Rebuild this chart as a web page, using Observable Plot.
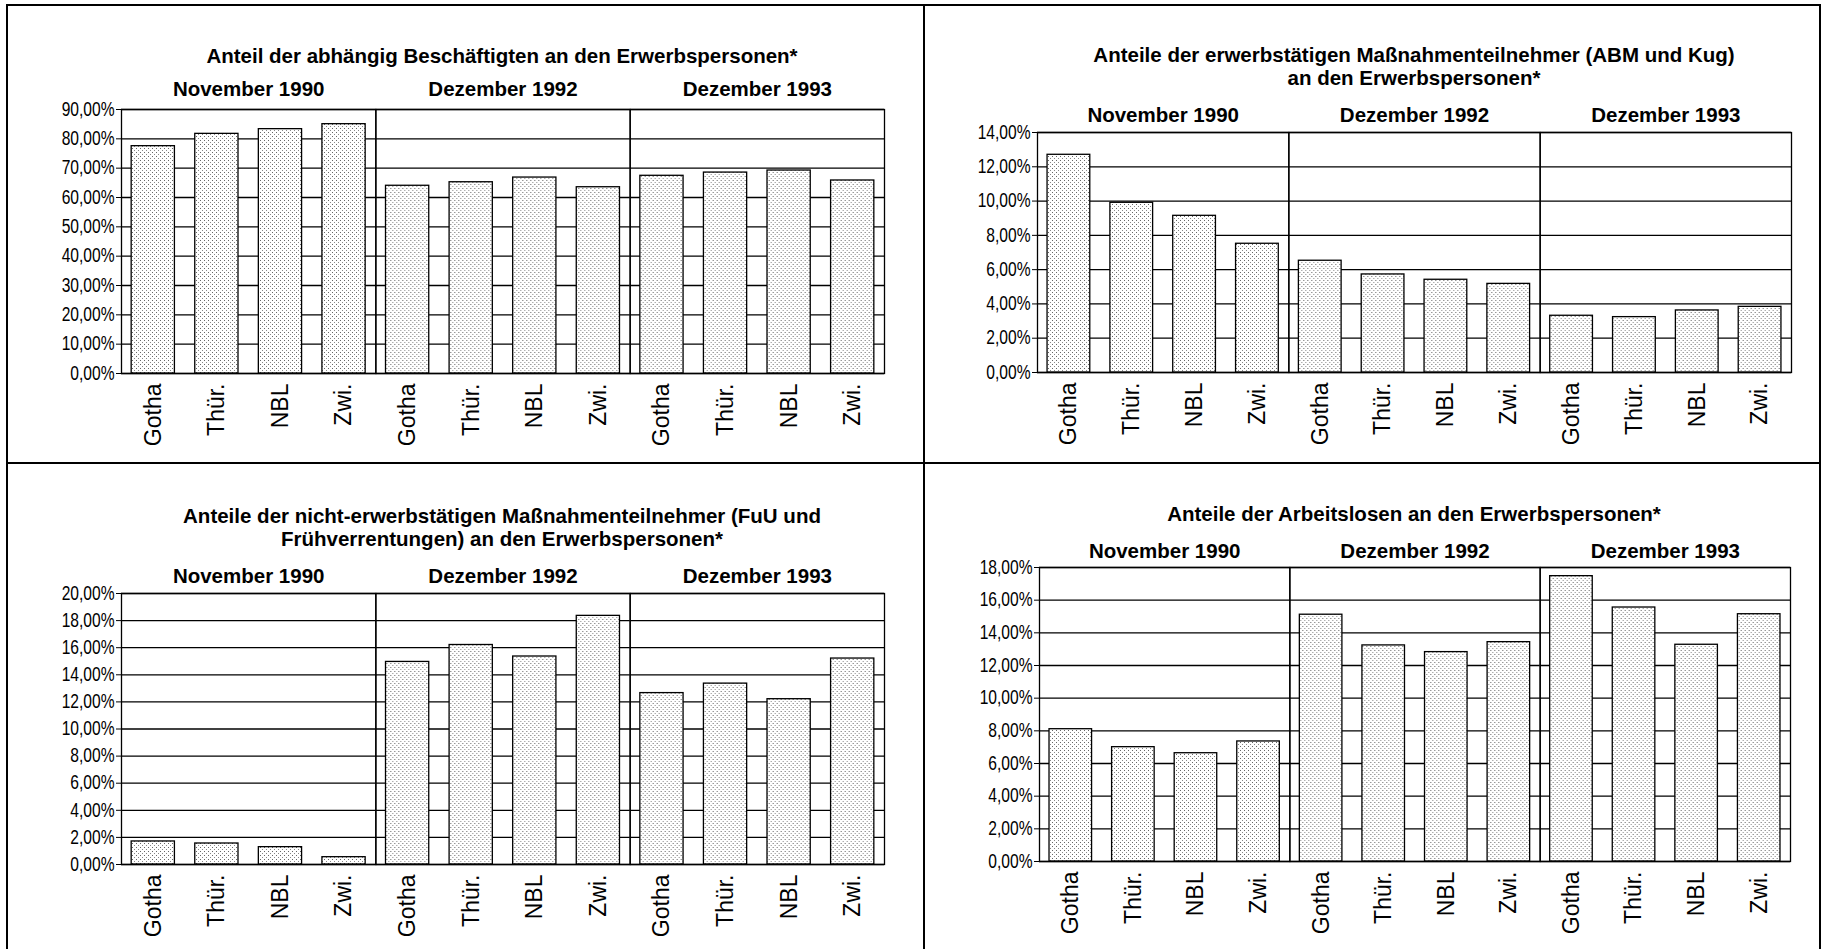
<!DOCTYPE html>
<html><head><meta charset="utf-8">
<script src="https://cdn.jsdelivr.net/npm/d3@7"></script>
<script src="https://cdn.jsdelivr.net/npm/@observablehq/plot@0.6"></script>
<style>
body{margin:0;background:#fff;}
#root{position:relative;width:1822px;height:949px;overflow:hidden;background:#fff;font-family:"Liberation Sans",Arial,sans-serif;color:#000;}
.title{position:absolute;font-weight:bold;font-size:20.5px;text-align:center;line-height:23px;white-space:nowrap;transform:translate(-50%,-50%);}
.line{position:absolute;background:#000;}
.chart{position:absolute;}
</style></head><body><div id="root"></div>
<script>
const regions = ["Gotha", "Thür.", "NBL", "Zwi."];
const periods = ["November 1990", "Dezember 1992", "Dezember 1993"];

// values in percent, period-major order (4 regions per period)
const beschaeftigte = [77.5, 81.7, 83.3, 85.0, 64.0, 65.2, 66.8, 63.5, 67.4, 68.5, 69.2, 65.8];
const massnahmenErwerbstaetig = [12.70, 9.90, 9.14, 7.51, 6.52, 5.72, 5.41, 5.17, 3.31, 3.23, 3.62, 3.83];
const massnahmenNichtErwerbstaetig = [1.70, 1.55, 1.28, 0.54, 14.95, 16.2, 15.35, 18.35, 12.65, 13.35, 12.2, 15.2];
const arbeitslose = [8.10, 7.00, 6.63, 7.35, 15.11, 13.23, 12.82, 13.43, 17.47, 15.55, 13.27, 15.14];

const ticks1 = [0, 10, 20, 30, 40, 50, 60, 70, 80, 90];
const ticks2 = [0, 2, 4, 6, 8, 10, 12, 14];
const ticks3 = [0, 2, 4, 6, 8, 10, 12, 14, 16, 18, 20];
const ticks4 = [0, 2, 4, 6, 8, 10, 12, 14, 16, 18];

const title1 = ["Anteil der abhängig Beschäftigten an den Erwerbspersonen*"];
const title2 = ["Anteile der erwerbstätigen Maßnahmenteilnehmer (ABM und Kug)", "an den Erwerbspersonen*"];
const title3 = ["Anteile der nicht-erwerbstätigen Maßnahmenteilnehmer (FuU und", "Frühverrentungen) an den Erwerbspersonen*"];
const title4 = ["Anteile der Arbeitslosen an den Erwerbspersonen*"];

const root = document.getElementById("root");
const fmt = d => d.toFixed(2).replace(".", ",") + "%";
const narrow = "'Liberation Sans Narrow', 'Arial Narrow', 'Liberation Sans', sans-serif";

// is a narrow face installed? if not, compress the y labels horizontally
const ctx = document.createElement("canvas").getContext("2d");
ctx.font = "18px 'Liberation Sans Narrow', monospace";
const wN = ctx.measureText("90,00%").width;
ctx.font = "18px monospace";
const wM = ctx.measureText("90,00%").width;
const hasNarrow = Math.abs(wN - wM) > 0.5;

function rows(values) {
  return values.map((v, i) => ({period: periods[Math.floor(i / 4)], region: regions[i % 4], value: v}));
}

function chart(values, yTicks, cfg) {
  const pid = "dots" + cfg.id;
  const svg = Plot.plot({
    width: cfg.width, height: cfg.height,
    marginLeft: cfg.ml, marginRight: cfg.mr, marginTop: cfg.mt, marginBottom: cfg.mb,
    style: {background: "transparent", color: "#000", fontFamily: "'Liberation Sans', Arial, sans-serif", overflow: "visible"},
    fx: {domain: periods, padding: 0, round: false},
    x: {domain: regions, paddingInner: 0.32, paddingOuter: 0.16, round: false},
    y: {domain: [0, yTicks[yTicks.length - 1]]},
    marks: [
      Plot.gridY(yTicks, {stroke: "#000", strokeOpacity: 1, strokeWidth: 1.3}),
      Plot.barY(rows(values), {fx: "period", x: "region", y: "value", fill: `url(#${pid})`, stroke: "#000", strokeWidth: 1.3}),
      Plot.frame({stroke: "#000", strokeWidth: 1.3}),
      Plot.axisY(yTicks, {tickFormat: fmt, tickSize: 5, tickPadding: 2, fontSize: 19.5, fontFamily: narrow, label: null, stroke: "#000"}),
      Plot.axisX({tickRotate: -90, tickSize: 0, tickPadding: 10, fontSize: 23, label: null}),
      Plot.axisFx({anchor: "top", tickSize: 0, tickPadding: cfg.gp, fontSize: 20.5, fontWeight: "bold", label: null})
    ]
  });
  const ns = "http://www.w3.org/2000/svg";
  const defs = document.createElementNS(ns, "defs");
  defs.innerHTML = `<pattern id="${pid}" width="4" height="4" patternUnits="userSpaceOnUse"><rect width="4" height="4" fill="#fff"/><rect x="0" y="0" width="1" height="1" fill="#666"/><rect x="2" y="2" width="1" height="1" fill="#888"/></pattern>`;
  svg.insertBefore(defs, svg.firstChild);
  if (!hasNarrow) {
    svg.querySelectorAll('[aria-label="y-axis tick label"] text').forEach(t => {
      const tr = t.getAttribute("transform") || "";
      t.setAttribute("transform", tr + " scale(0.8,1)");
    });
  }
  svg.classList.add("chart");
  svg.style.left = cfg.left + "px";
  svg.style.top = cfg.top + "px";
  root.appendChild(svg);
}

function title(lines, cx, cy) {
  const d = document.createElement("div");
  d.className = "title";
  d.style.left = cx + "px";
  d.style.top = cy + "px";
  d.innerHTML = lines.map(s => s.replace(/&/g, "&amp;")).join("<br>");
  root.appendChild(d);
}

function line(x, y, w, h) {
  const d = document.createElement("div");
  d.className = "line";
  Object.assign(d.style, {left: x + "px", top: y + "px", width: w + "px", height: h + "px"});
  root.appendChild(d);
}

// panel borders
line(7, 4, 1814, 1.5);
line(6, 4, 1.5, 945);
line(1819, 4, 1.5, 945);
line(923, 4, 1.5, 945);
line(6, 462, 1815, 1.5);

chart(beschaeftigte, ticks1, {id: 1, left: 0, top: 60, width: 920, height: 400, ml: 121, mr: 36, mt: 49, mb: 87, gp: 14});
chart(massnahmenErwerbstaetig, ticks2, {id: 2, left: 924, top: 60, width: 896, height: 400, ml: 113, mr: 29, mt: 72, mb: 88, gp: 11});
chart(massnahmenNichtErwerbstaetig, ticks3, {id: 3, left: 0, top: 555, width: 920, height: 390, ml: 121, mr: 36, mt: 38, mb: 81, gp: 11});
chart(arbeitslose, ticks4, {id: 4, left: 924, top: 530, width: 896, height: 415, ml: 115, mr: 30, mt: 37, mb: 84, gp: 10});

title(title1, 502, 55);
title(title2, 1414, 66);
title(title3, 502, 526.5);
title(title4, 1414, 513);
</script></body></html>
